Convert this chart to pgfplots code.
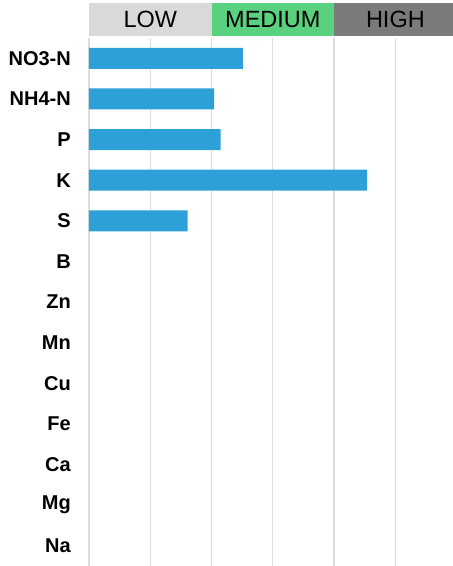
\documentclass[border=0pt]{standalone}
\usepackage{pgfplots}
\pgfplotsset{compat=1.18}
\usepackage{fontspec}
\setmainfont{Liberation Sans}
\definecolor{barblue}{RGB}{45,161,215}
\definecolor{lowgray}{RGB}{217,217,217}
\definecolor{medgreen}{RGB}{90,209,126}
\definecolor{highgray}{RGB}{123,123,123}
\definecolor{gridgray}{RGB}{221,221,221}
\begin{document}
\begin{tikzpicture}
\begin{axis}[
  scale only axis, width=364pt, height=528pt,
  xmin=0, xmax=5.94, ymin=-0.5, ymax=12.5, y dir=reverse,
  xbar, bar width=21pt,
  ytick={0,...,12},
  yticklabels={NO3-N,NH4-N,P,K,S,B,Zn,Mn,Cu,Fe,Ca,Mg,Na},
  yticklabel style={font=\bfseries\fontsize{20}{20}\selectfont, anchor=east, inner sep=0pt, xshift=-18pt},
  xtick={0,...,6}, xticklabels={},
  xmajorgrids, grid style={draw=gridgray, line width=1.3pt},
  axis line style={draw=none}, major tick length=0pt,
  clip=false,
]
\addplot[fill=barblue, draw=none] coordinates {
 (2.51,0) (2.04,1) (2.15,2) (4.54,3) (1.61,4)};
\fill[lowgray] ([yshift=2pt]axis cs:0,-0.5) rectangle ([yshift=35pt]axis cs:2,-0.5);
\fill[medgreen] ([yshift=2pt]axis cs:2,-0.5) rectangle ([yshift=35pt]axis cs:4,-0.5);
\fill[highgray] ([yshift=2pt]axis cs:4,-0.5) rectangle ([yshift=35pt]axis cs:5.94,-0.5);
\node[font=\fontsize{23.5}{23.5}\selectfont] at ([yshift=18.5pt]axis cs:1,-0.5) {LOW};
\node[font=\fontsize{23.5}{23.5}\selectfont] at ([yshift=18.5pt]axis cs:3,-0.5) {MEDIUM};
\node[font=\fontsize{23.5}{23.5}\selectfont] at ([yshift=18.5pt]axis cs:5,-0.5) {HIGH};
\coordinate (ll) at (axis description cs:0,0);
\coordinate (ur) at (axis description cs:1,1);
\end{axis}
\pgfresetboundingbox
\path[use as bounding box] ([xshift=-89pt]ll) rectangle ([yshift=38pt]ur);
\end{tikzpicture}
\end{document}
